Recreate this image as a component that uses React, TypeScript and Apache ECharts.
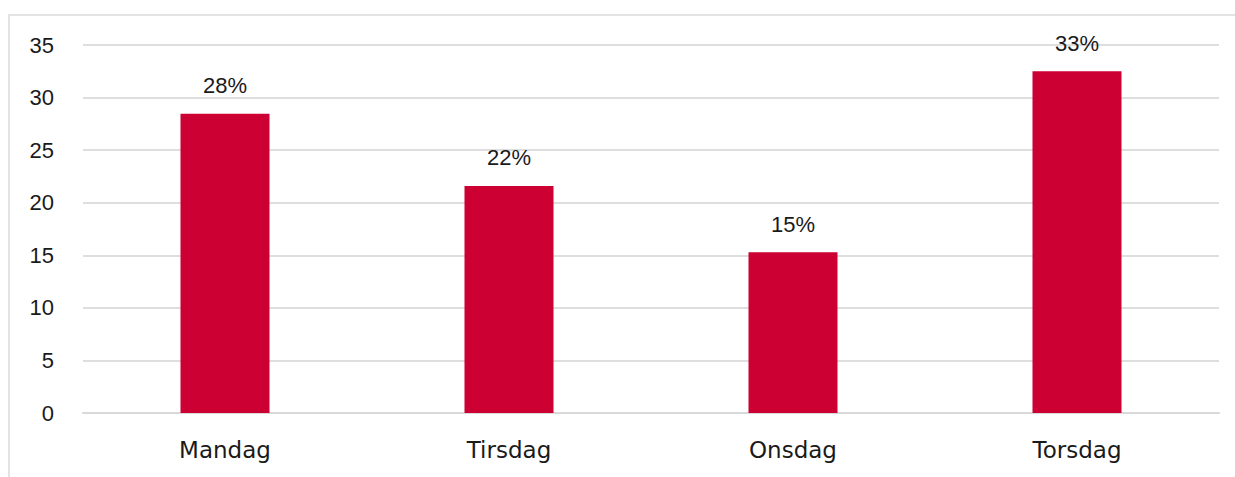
import React, { useEffect, useRef } from "react";
import * as echarts from "echarts";

const categories = ["Mandag", "Tirsdag", "Onsdag", "Torsdag"];
const values = [28.45, 21.6, 15.3, 32.5];
const labels = ["28%", "22%", "15%", "33%"];

export default function App() {
  const ref = useRef<HTMLDivElement>(null);
  useEffect(() => {
    if (!ref.current) return;
    const chart = echarts.init(ref.current, null, { renderer: "svg" });
    chart.setOption({
      animation: false,
      grid: { left: 83, right: 16, top: 45, bottom: 64 },
      xAxis: {
        type: "category",
        data: categories,
        axisLine: { show: true, lineStyle: { color: "#d9d9d9", width: 2 } },
        axisTick: { show: false },
        axisLabel: { fontSize: 23, color: "#1a1a1a", margin: 25, fontFamily: "DejaVu Sans" },
      },
      yAxis: {
        type: "value",
        min: 0,
        max: 35,
        interval: 5,
        axisLine: { show: false },
        axisTick: { show: false },
        axisLabel: { fontSize: 22, color: "#1a1a1a", margin: 29, fontFamily: "Liberation Sans" },
        splitLine: { lineStyle: { color: "#dedede", width: 2 } },
      },
      series: [
        {
          type: "bar",
          data: values,
          barWidth: 89,
          itemStyle: { color: "#CC0033" },
          label: {
            show: true,
            position: "top",
            distance: 17,
            fontSize: 22,
            color: "#1a1a1a",
            fontFamily: "Liberation Sans",
            formatter: (p: any) => labels[p.dataIndex],
          },
        },
      ],
    });
    return () => chart.dispose();
  }, []);
  return (
    <>
      <div
        ref={ref}
        style={{ position: "absolute", left: 0, top: 0, width: 1235, height: 477 }}
      />
      <div
        style={{
          position: "absolute",
          left: 8,
          top: 14,
          width: 1240,
          height: 480,
          borderTop: "2px solid #e3e3e3",
          borderLeft: "2px solid #e3e3e3",
          pointerEvents: "none",
        }}
      />
    </>
  );
}
